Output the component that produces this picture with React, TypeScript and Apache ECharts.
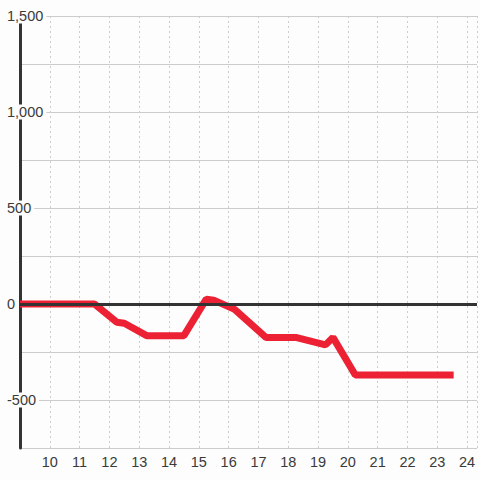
import React, { useEffect, useRef } from "react";
import * as echarts from "echarts";

const hours = [9, 11.5, 12.25, 12.5, 13.25, 14.5, 15.25, 15.5, 16.2, 17.25, 18.25, 19.25, 19.5, 20.25, 23.55];
const values = [0, 0, -95, -100, -165, -165, 25, 20, -28, -174, -174, -213, -174, -370, -370];
const yTickLabels = [1500, 1000, 500, 0, -500];

export default function App() {
  const ref = useRef<HTMLDivElement>(null);
  useEffect(() => {
    if (!ref.current) return;
    const chart = echarts.init(ref.current, null, { renderer: "svg" });
    const font = "'Liberation Sans', Arial, sans-serif";
    chart.setOption({
      animation: false,
      backgroundColor: "#fcfdfc",
      grid: { left: 20, right: 0, top: 16, bottom: 32 },
      xAxis: {
        type: "value",
        min: 9,
        max: 24.333,
        interval: 1,
        axisLine: { show: false },
        axisTick: { show: false },
        splitLine: { show: true, lineStyle: { color: "#cccccc", type: [2, 3], width: 1 } },
        axisLabel: {
          color: "#3a3a3a",
          fontSize: 14.5,
          fontFamily: font,
          margin: 6,
          formatter: (v: number) => (v >= 10 && Number.isInteger(v) ? String(v) : ""),
        },
      },
      yAxis: {
        type: "value",
        min: -750,
        max: 1500,
        interval: 250,
        axisLine: { show: true, lineStyle: { color: "#333333", width: 3 } },
        axisTick: { show: false },
        splitLine: { show: true, lineStyle: { color: "#cccccc", width: 1 } },
        axisLabel: {
          align: "left",
          margin: 16,
          formatter: (v: number) =>
            yTickLabels.includes(v) ? `{b|${v.toLocaleString("en-US")}}` : "",
          rich: {
            b: {
              color: "#3a3a3a",
              fontSize: 14.5,
              fontFamily: font,
              backgroundColor: "#fcfdfc",
              padding: [0, 3],
              lineHeight: 18,
            },
          },
        },
      },
      series: [
        {
          type: "line",
          data: [],
          z: 1,
          silent: true,
          markLine: {
            silent: true,
            symbol: "none",
            label: { show: false },
            lineStyle: { color: "#333333", width: 3, type: "solid" },
            data: [{ yAxis: 0 }],
          },
        },
        {
          type: "line",
          z: 3,
          data: hours.map((h, i) => [h, values[i]]),
          showSymbol: false,
          lineStyle: { color: "#ed2134", width: 7 },
          itemStyle: { color: "#ed2134" },
        },
      ],
    });
    return () => chart.dispose();
  }, []);
  return (
    <div
      ref={ref}
      style={{ position: "fixed", left: 0, top: 0, width: 480, height: 480 }}
    />
  );
}
